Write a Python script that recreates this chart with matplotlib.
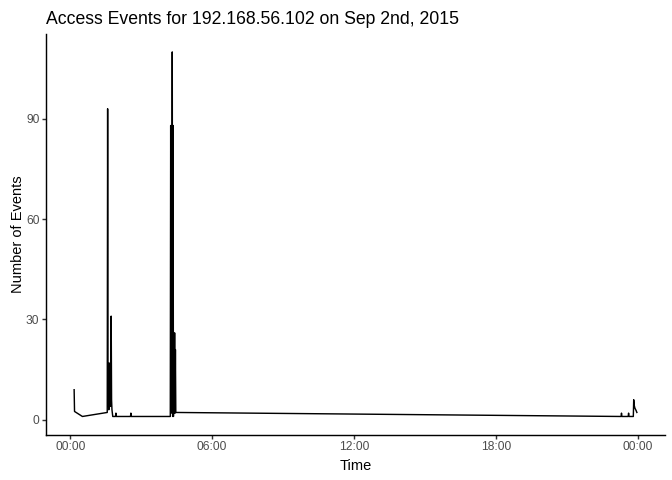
import matplotlib
matplotlib.use("Agg")
import matplotlib.pyplot as plt
import matplotlib.dates as mdates
import pandas as pd

# Data: minute of the day (HH:MM) and number of access events
times = [
    "00:10", "00:11", "00:31", "01:34",
    "01:35", "01:36", "01:37", "01:38", "01:39", "01:40", "01:41", "01:42",
    "01:43", "01:44", "01:45", "01:46", "01:47", "01:48",
    "01:55", "01:56", "01:57", "02:33", "02:34", "02:35",
    "04:14", "04:15", "04:16", "04:17", "04:18", "04:19", "04:20", "04:21",
    "04:22", "04:23", "04:24", "04:25", "04:26", "04:27", "04:28",
    "23:18", "23:19", "23:20", "23:36", "23:37", "23:38",
    "23:49", "23:50", "23:51", "23:53", "23:56", "23:58",
]
events = [
    9, 2.5, 1, 2.2,
    93, 4, 7, 3, 17, 5, 12, 4,
    17, 31, 6, 3, 2, 1,
    1, 2, 1, 1, 2, 1,
    1, 88, 3, 87, 2, 110, 1, 88,
    1, 21, 2, 26, 2, 21, 2.2,
    1, 2, 1, 1, 2, 1,
    1, 6, 4.5, 3.5, 2.8, 2.2,
]

day = "2015-09-02"
x = pd.to_datetime([day + " " + t for t in times])

plt.rcParams['font.family'] = ['Liberation Sans', 'DejaVu Sans']

fig = plt.figure(figsize=(7, 5), dpi=96)
ax = fig.add_axes([46 / 672, 45.3 / 480, 619 / 672, 401 / 480])

ax.plot(x, events, color="black", linewidth=1.07)

ax.set_yticks([0, 30, 60, 90])
ticks = pd.date_range("2015-09-02 00:00", "2015-09-03 00:00", freq="6h")
ax.set_xticks(ticks)
ax.xaxis.set_major_formatter(mdates.DateFormatter("%H:%M"))

for side in ["top", "right"]:
    ax.spines[side].set_visible(False)
for side in ["left", "bottom"]:
    ax.spines[side].set_linewidth(1.07)
    ax.spines[side].set_color("black")

ax.tick_params(axis="both", length=2.75, width=1.07, color="#333333",
               labelcolor="#4D4D4D", labelsize=9, pad=2.2)

ax.set_xlabel("Time", fontsize=11, color="black", labelpad=4)
ax.set_ylabel("Number of Events", fontsize=11, color="black", labelpad=1)
ax.set_title("Access Events for 192.168.56.102 on Sep 2nd, 2015",
             loc="left", fontsize=13.2, color="black", pad=7)

fig.savefig("out.png", dpi=96)
